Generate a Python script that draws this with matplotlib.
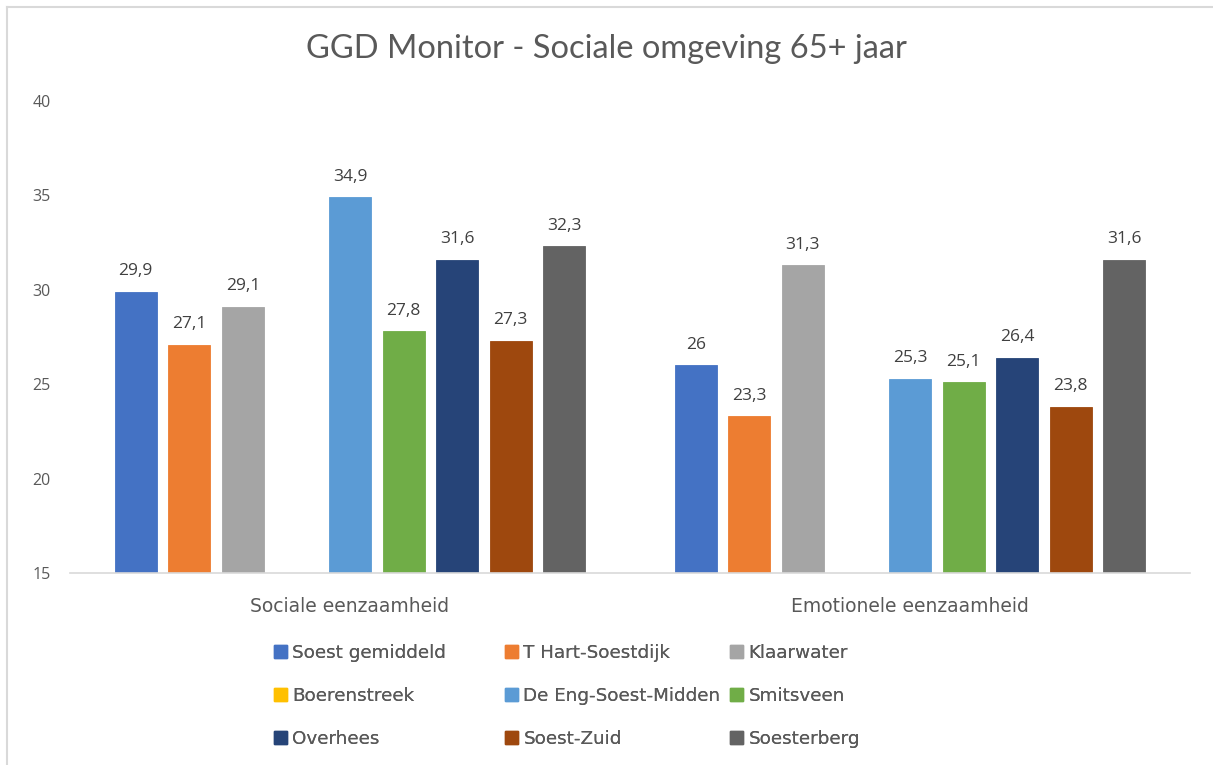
import matplotlib
matplotlib.use("Agg")
import matplotlib.pyplot as plt
from matplotlib.patches import Patch
from matplotlib.lines import Line2D
import numpy as np

title = "GGD Monitor - Sociale omgeving 65+ jaar"
categories = ["Sociale eenzaamheid", "Emotionele eenzaamheid"]
series_names = ["Soest gemiddeld", "T Hart-Soestdijk", "Klaarwater",
                "Boerenstreek", "De Eng-Soest-Midden", "Smitsveen",
                "Overhees", "Soest-Zuid", "Soesterberg"]
values = [
    [29.9, 26.0],
    [27.1, 23.3],
    [29.1, 31.3],
    [None, None],
    [34.9, 25.3],
    [27.8, 25.1],
    [31.6, 26.4],
    [27.3, 23.8],
    [32.3, 31.6],
]
colors = ["#4472C4", "#ED7D31", "#A5A5A5", "#FFC000", "#5B9BD5",
          "#70AD47", "#264478", "#9E480E", "#636363"]
y_ticks = [15, 20, 25, 30, 35, 40]

TXT = "#595959"
FONT = "Open Sans"
WIDE = "DejaVu Sans"

W, H = 1213, 765
fig = plt.figure(figsize=(W / 100, H / 100), dpi=100)
fig.patch.set_facecolor("white")

# chart frame lines (top and left edge)
fig.add_artist(Line2D([7 / W, 7 / W], [0, 1 - 7 / H], color="#d9d9d9", lw=1.5))
fig.add_artist(Line2D([7 / W, 1], [1 - 7 / H, 1 - 7 / H], color="#d9d9d9", lw=1.5))

ax = fig.add_axes([70 / W, (H - 573) / H, 1120 / W, 472 / H])
ax.set_xlim(-0.5, 1.5)
ax.set_ylim(y_ticks[0], y_ticks[-1])

step = 0.0957
width = 0.075
x = np.arange(len(categories))
n = len(series_names)
for i, (name, vals, col) in enumerate(zip(series_names, values, colors)):
    off = (i - (n - 1) / 2) * step
    for j, v in enumerate(vals):
        if v is None:
            continue
        base = y_ticks[0]
        ax.bar(x[j] + off, v - base, width, bottom=base, color=col,
               edgecolor=col, linewidth=0.6, zorder=2)
        label = f"{v:g}".replace(".", ",")
        ax.annotate(label, (x[j] + off, v), xytext=(0, 9),
                    textcoords="offset points", ha="center", va="bottom",
                    fontsize=12.5, color="#404040", family=FONT)

for s in ["top", "right", "left"]:
    ax.spines[s].set_visible(False)
ax.spines["bottom"].set_color("#d9d9d9")
ax.spines["bottom"].set_linewidth(1.2)

ax.set_yticks(y_ticks)
ax.set_yticklabels([str(t) for t in y_ticks], fontsize=11.5, color=TXT, family=FONT)
ax.tick_params(axis="y", length=0, pad=14)
ax.set_xticks(x)
ax.set_xticklabels(categories, fontsize=13.5, color=TXT, family=WIDE)
ax.tick_params(axis="x", length=0, pad=17)

fig.text(0.5, 1 - 49 / H, title, ha="center", va="center", fontsize=23.5,
         color=TXT, family="Lato")

# legend laid out row by row: one legend per column, equal column widths
col_x = [274, 505, 730]
for c in range(3):
    idx = [r * 3 + c for r in range(3)]
    handles = [Patch(facecolor=colors[k], edgecolor=colors[k], label=series_names[k])
               for k in idx]
    leg = fig.legend(handles=handles, ncol=1, loc="upper left",
                     bbox_to_anchor=(col_x[c] / W, 1 - 644 / H), frameon=False,
                     prop={"family": WIDE, "size": 13.2}, labelcolor=TXT,
                     handlelength=0.7, handleheight=0.7, handletextpad=0.3,
                     labelspacing=1.37, borderpad=0, borderaxespad=0)
    fig.add_artist(leg)

fig.savefig("out.png", dpi=100, facecolor="white")
